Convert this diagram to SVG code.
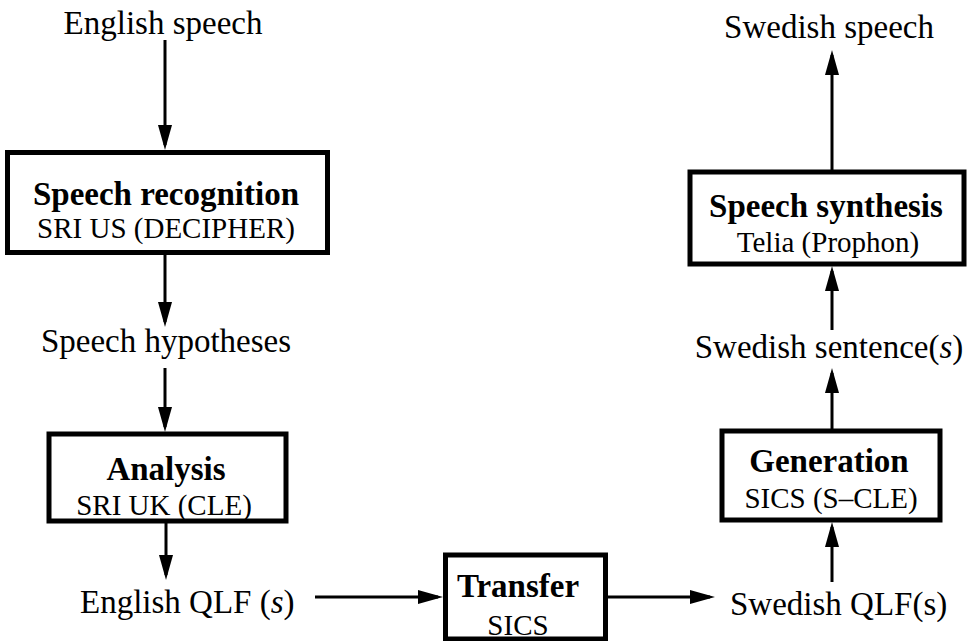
<svg xmlns="http://www.w3.org/2000/svg" width="967" height="641" viewBox="0 0 967 641">
<style>
text{font-family:"Liberation Serif","Times New Roman",serif;fill:#000}
.lbl{font-size:33px}
.ttl{font-size:33px;font-weight:bold}
.sub{font-size:29px}
.box{fill:#fff;stroke:#000;stroke-width:5}
.arr{stroke:#000;stroke-width:3;fill:none;marker-end:url(#ah)}
.c{text-anchor:middle}
</style>
<defs>
<marker id="ah" markerUnits="userSpaceOnUse" markerWidth="26" markerHeight="14" refX="20" refY="7" orient="auto">
<path d="M0,0 L25,7 L0,14 Z" fill="#000"/>
</marker>
</defs>
<rect width="967" height="641" fill="#fff"/>
<g id="connectors">
<line class="arr" x1="165" y1="40" x2="165" y2="145"/>
<line class="arr" x1="165" y1="255" x2="165" y2="322"/>
<line class="arr" x1="165" y1="368" x2="165" y2="427"/>
<line class="arr" x1="166" y1="523" x2="166" y2="575"/>
<line class="arr" x1="315" y1="597" x2="438" y2="597"/>
<line class="arr" x1="607" y1="597" x2="710" y2="597"/>
<line class="arr" x1="832" y1="582" x2="832" y2="527"/>
<line class="arr" x1="832" y1="430" x2="832" y2="373"/>
<line class="arr" x1="832" y1="330" x2="832" y2="271"/>
<line class="arr" x1="832" y1="170" x2="832" y2="55"/>
</g>
<g id="english-speech"><text class="lbl c" x="163" y="34">English speech</text></g>
<g id="speech-recognition">
<rect class="box" x="7.5" y="152.5" width="320" height="100"/>
<text class="ttl c" x="166" y="205">Speech recognition</text>
<text class="sub c" x="166" y="238">SRI US (DECIPHER)</text>
</g>
<g id="speech-hypotheses"><text class="lbl c" x="166" y="352">Speech hypotheses</text></g>
<g id="analysis">
<rect class="box" x="49" y="434" width="237" height="87"/>
<text class="ttl c" x="166" y="480">Analysis</text>
<text class="sub c" x="164" y="515">SRI UK (CLE)</text>
</g>
<g id="english-qlf"><text class="lbl" x="80" y="613">English QLF (<tspan font-style="italic">s</tspan>)</text></g>
<g id="transfer">
<rect class="box" x="445.5" y="555" width="160" height="84"/>
<text class="ttl c" x="518" y="597">Transfer</text>
<text class="sub c" x="518" y="635">SICS</text>
</g>
<g id="swedish-qlf"><text class="lbl" x="730" y="615">Swedish QLF(s)</text></g>
<g id="generation">
<rect class="box" x="722" y="431" width="218" height="89"/>
<text class="ttl c" x="829" y="472">Generation</text>
<text class="sub c" x="831" y="508">SICS (S–CLE)</text>
</g>
<g id="swedish-sentences"><text class="lbl c" x="829" y="358">Swedish sentence(<tspan font-style="italic">s</tspan>)</text></g>
<g id="speech-synthesis">
<rect class="box" x="690" y="172" width="274" height="92"/>
<text class="ttl c" x="826" y="217">Speech synthesis</text>
<text class="sub c" x="828" y="252">Telia (Prophon)</text>
</g>
<g id="swedish-speech"><text class="lbl c" x="829" y="38">Swedish speech</text></g>
</svg>
